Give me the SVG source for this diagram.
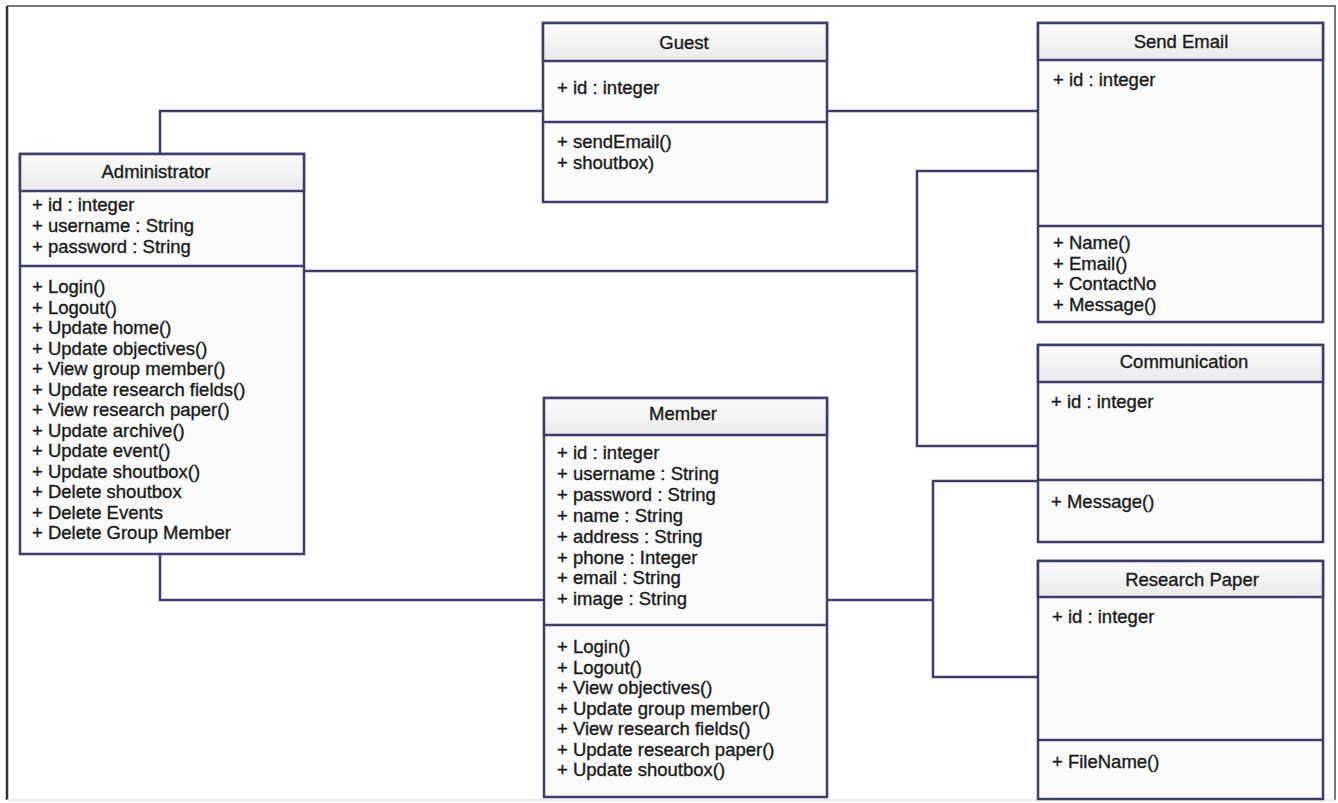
<svg xmlns="http://www.w3.org/2000/svg" width="1338" height="803" viewBox="0 0 1338 803">
<defs>
<linearGradient id="hdr" x1="0" y1="0" x2="0" y2="1">
<stop offset="0" stop-color="#fbfbfb"/>
<stop offset="1" stop-color="#ebebeb"/>
</linearGradient>
<style>
.box{fill:#fbfbfb;stroke:#3f3c70;stroke-width:2.5}
.head{fill:url(#hdr);stroke:#3f3c70;stroke-width:2.5}
.div{stroke:#3f3c70;stroke-width:2.5}
.conn{fill:none;stroke:#3f3c70;stroke-width:2.5}
text{font-family:"Liberation Sans",Arial,sans-serif;font-size:18.5px;fill:#1a1a1a;stroke:#1a1a1a;stroke-width:0.35}
.t{text-anchor:middle}
</style>
</defs>
<rect x="0" y="0" width="1338" height="803" fill="#ffffff"/>
<path d="M7 6 H1335 V800" fill="none" stroke="#777" stroke-width="2"/>
<path d="M7 6 V800" fill="none" stroke="#333" stroke-width="2.5"/>
<path d="M7 800 H1335" fill="none" stroke="#e6e6e6" stroke-width="1.5"/>

<g id="connectors">
<path class="conn" d="M160 154 V111 H543"/>
<path class="conn" d="M827 111 H1038"/>
<path class="conn" d="M304 271 H917 M1038 171 H917 V446 H1038"/>
<path class="conn" d="M160 554 V600 H544"/>
<path class="conn" d="M827 600 H933 M1038 481 H933 V677 H1038"/>
</g>

<g id="administrator">
<rect class="box" x="20" y="154" width="284" height="400"/>
<rect class="head" x="20" y="154" width="284" height="37"/>
<line class="div" x1="20" y1="266" x2="304" y2="266"/>
<text class="t" x="156" y="178">Administrator</text>
<text x="32" y="211">+ id : integer</text>
<text x="32" y="232">+ username : String</text>
<text x="32" y="253">+ password : String</text>
<text x="32" y="293">+ Login()</text>
<text x="32" y="313.5">+ Logout()</text>
<text x="32" y="334">+ Update home()</text>
<text x="32" y="354.5">+ Update objectives()</text>
<text x="32" y="375">+ View group member()</text>
<text x="32" y="395.5">+ Update research fields()</text>
<text x="32" y="416">+ View research paper()</text>
<text x="32" y="436.5">+ Update archive()</text>
<text x="32" y="457">+ Update event()</text>
<text x="32" y="477.5">+ Update shoutbox()</text>
<text x="32" y="498">+ Delete shoutbox</text>
<text x="32" y="518.5">+ Delete Events</text>
<text x="32" y="539">+ Delete Group Member</text>
</g>

<g id="guest">
<rect class="box" x="543" y="23" width="284" height="179"/>
<rect class="head" x="543" y="23" width="284" height="38"/>
<line class="div" x1="543" y1="122" x2="827" y2="122"/>
<text class="t" x="684" y="49">Guest</text>
<text x="557" y="94">+ id : integer</text>
<text x="557" y="148">+ sendEmail()</text>
<text x="557" y="169">+ shoutbox)</text>
</g>

<g id="send-email">
<rect class="box" x="1038" y="23" width="285" height="299"/>
<rect class="head" x="1038" y="23" width="285" height="37"/>
<line class="div" x1="1038" y1="226" x2="1323" y2="226"/>
<text class="t" x="1181" y="48">Send Email</text>
<text x="1053" y="86">+ id : integer</text>
<text x="1053" y="249">+ Name()</text>
<text x="1053" y="269.5">+ Email()</text>
<text x="1053" y="290">+ ContactNo</text>
<text x="1053" y="310.5">+ Message()</text>
</g>

<g id="communication">
<rect class="box" x="1038" y="345" width="285" height="197"/>
<rect class="head" x="1038" y="345" width="285" height="37"/>
<line class="div" x1="1038" y1="480" x2="1323" y2="480"/>
<text class="t" x="1184" y="368">Communication</text>
<text x="1051" y="408">+ id : integer</text>
<text x="1051" y="508">+ Message()</text>
</g>

<g id="research-paper">
<rect class="box" x="1038" y="561" width="285" height="238"/>
<rect class="head" x="1038" y="561" width="285" height="36"/>
<line class="div" x1="1038" y1="740" x2="1323" y2="740"/>
<text class="t" x="1192" y="586">Research Paper</text>
<text x="1052" y="623">+ id : integer</text>
<text x="1052" y="768">+ FileName()</text>
</g>

<g id="member">
<rect class="box" x="544" y="398" width="283" height="399"/>
<rect class="head" x="544" y="398" width="283" height="37"/>
<line class="div" x1="544" y1="625" x2="827" y2="625"/>
<text class="t" x="683" y="420">Member</text>
<text x="557" y="459">+ id : integer</text>
<text x="557" y="480">+ username : String</text>
<text x="557" y="501">+ password : String</text>
<text x="557" y="522">+ name : String</text>
<text x="557" y="543">+ address : String</text>
<text x="557" y="564">+ phone : Integer</text>
<text x="557" y="584">+ email : String</text>
<text x="557" y="605">+ image : String</text>
<text x="557" y="653">+ Login()</text>
<text x="557" y="673.5">+ Logout()</text>
<text x="557" y="694">+ View objectives()</text>
<text x="557" y="714.5">+ Update group member()</text>
<text x="557" y="735">+ View research fields()</text>
<text x="557" y="755.5">+ Update research paper()</text>
<text x="557" y="776">+ Update shoutbox()</text>
</g>
</svg>
